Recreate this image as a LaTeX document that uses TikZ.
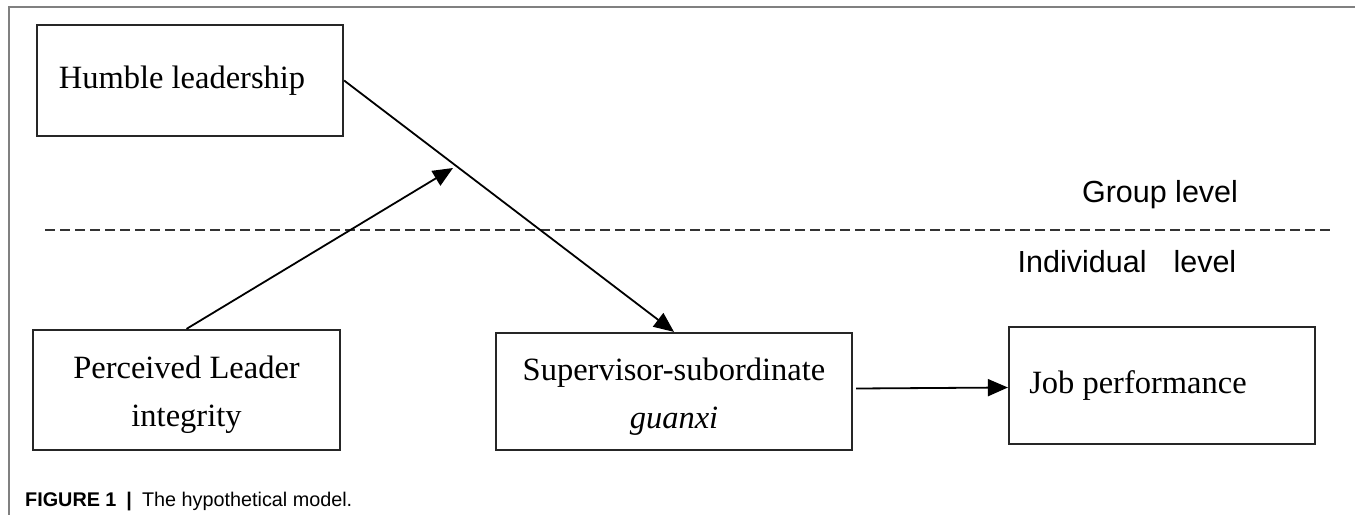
\documentclass[tikz,border=0pt]{standalone}
\usepackage{fontspec}
\setmainfont{Liberation Serif}
\newfontfamily\labelsans{Liberation Sans}
\usetikzlibrary{arrows.meta}

\tikzset{
  frame/.style={draw=black!50, line width=1.6pt},
  box/.style={draw=black!85, line width=2.2pt, inner sep=0pt, align=center,
              font=\fontsize{32.5}{48}\selectfont},
  arr/.style={draw=black, line width=1.8pt, -{Triangle[length=20pt,width=17pt]}},
  levelsep/.style={draw=black!80, line width=1.6pt, dash pattern=on 10pt off 5pt},
  levellabel/.style={font=\labelsans\fontsize{30.5}{36}\selectfont, inner sep=0pt},
  figcaption/.style={font=\labelsans\fontsize{19.8}{24}\selectfont, inner sep=0pt, anchor=base west}
}

\begin{document}
\begin{tikzpicture}[x=1pt,y=-1pt]
  \useasboundingbox (0,0) rectangle (1355,515);

  % panel rule: top and left edge
  \draw[frame] (1355,7) -- (9,7) -- (9,515);

  % constructs
  \node[box, minimum width=306pt, minimum height=111pt] (hum) at (190,80.5)
    {Humble leadership\hspace{16pt}};
  \node[box, minimum width=307pt, minimum height=120pt] (pli) at (186.5,390)
    {\rule{0pt}{31pt}Perceived Leader\\integrity};
  \node[box, minimum width=356pt, minimum height=117pt] (ssg) at (674,391.5)
    {\rule{0pt}{32pt}Supervisor-subordinate\\\textit{guanxi}};
  \node[box, minimum width=306pt, minimum height=117pt] (job) at (1162,385.5)
    {Job performance\hspace{48pt}};

  % level separator and level names
  \coordinate (sepL) at (45,230);
  \coordinate (sepR) at (1330,230);
  \draw[levelsep] (sepL) -- (sepR);
  \node[levellabel] (grp) at (1160,195) {Group level};
  \node[levellabel] (ind) at (1127,262) {Individual\hspace{27pt}level};

  % paths
  \draw[arr] (hum.east) -- (ssg.north);
  \coordinate (mod) at (453,168);
  \draw[arr] (pli.north) -- (mod);
  \draw[arr] ([xshift=3pt,yshift=3pt]ssg.east) -- ([yshift=-2pt]job.west);

  % caption
  \node[figcaption] (cap) at (25,506)
    {\textbf{FIGURE 1}\hspace{10pt}\textbf{|}\hspace{10pt}The hypothetical model.};
\end{tikzpicture}
\end{document}
